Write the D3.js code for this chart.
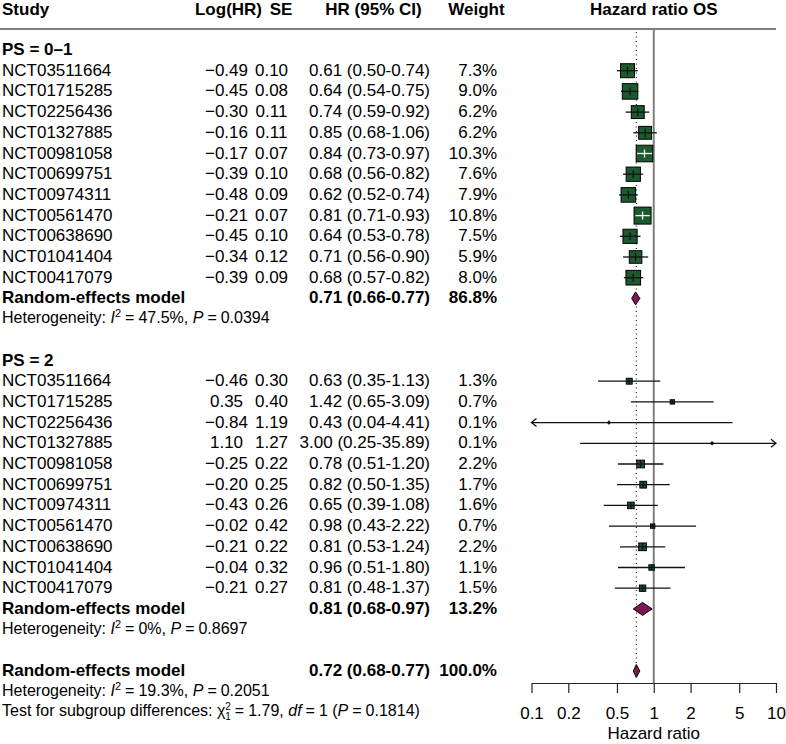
<!DOCTYPE html>
<html>
<head>
<meta charset="utf-8">
<script src="https://cdn.jsdelivr.net/npm/d3@7"></script>
<style>
	body { margin: 0; background: #fff; }
	svg { font-family: "Liberation Sans", Arial, sans-serif; }
</style>
</head>
<body>
<svg id="chart" width="786" height="744"></svg>
<script>
/* eslint-disable no-var, no-undef */

var studies = [ 'NCT03511664', 'NCT01715285', 'NCT02256436', 'NCT01327885', 'NCT00981058', 'NCT00699751',
	'NCT00974311', 'NCT00561470', 'NCT00638690', 'NCT01041404', 'NCT00417079' ];

// PS = 0-1
var logHR1 = [ -0.49, -0.45, -0.30, -0.16, -0.17, -0.39, -0.48, -0.21, -0.45, -0.34, -0.39 ];
var se1 = [ 0.10, 0.08, 0.11, 0.11, 0.07, 0.10, 0.09, 0.07, 0.10, 0.12, 0.09 ];
var hr1 = [ 0.61, 0.64, 0.74, 0.85, 0.84, 0.68, 0.62, 0.81, 0.64, 0.71, 0.68 ];
var lower1 = [ 0.50, 0.54, 0.59, 0.68, 0.73, 0.56, 0.52, 0.71, 0.53, 0.56, 0.57 ];
var upper1 = [ 0.74, 0.75, 0.92, 1.06, 0.97, 0.82, 0.74, 0.93, 0.78, 0.90, 0.82 ];
var weight1 = [ 7.3, 9.0, 6.2, 6.2, 10.3, 7.6, 7.9, 10.8, 7.5, 5.9, 8.0 ];

// PS = 2
var logHR2 = [ -0.46, 0.35, -0.84, 1.10, -0.25, -0.20, -0.43, -0.02, -0.21, -0.04, -0.21 ];
var se2 = [ 0.30, 0.40, 1.19, 1.27, 0.22, 0.25, 0.26, 0.42, 0.22, 0.32, 0.27 ];
var hr2 = [ 0.63, 1.42, 0.43, 3.00, 0.78, 0.82, 0.65, 0.98, 0.81, 0.96, 0.81 ];
var lower2 = [ 0.35, 0.65, 0.04, 0.25, 0.51, 0.50, 0.39, 0.43, 0.53, 0.51, 0.48 ];
var upper2 = [ 1.13, 3.09, 4.41, 35.89, 1.20, 1.35, 1.08, 2.22, 1.24, 1.80, 1.37 ];
var weight2 = [ 1.3, 0.7, 0.1, 0.1, 2.2, 1.7, 1.6, 0.7, 2.2, 1.1, 1.5 ];

// pooled estimates: [ hr, lower, upper, weight ]
var pooled1 = [ 0.71, 0.66, 0.77, 86.8 ];
var pooled2 = [ 0.81, 0.68, 0.97, 13.2 ];
var pooledAll = [ 0.72, 0.68, 0.77, 100.0 ];
// heterogeneity: [ I2 label, P label ]
var het1 = [ '47.5%', '0.0394' ];
var het2 = [ '0%', '0.8697' ];
var hetAll = [ '19.3%', '0.2051' ];
var subgroupTest = [ '1.79', '1', '0.1814' ];

var groupLabels = [ 'PS = 0\u20131', 'PS = 2' ];
var axisTicks = [ 0.1, 0.2, 0.5, 1, 2, 5, 10 ];

var svg = d3.select( '#chart' );
var fs = 17;
var fsSmall = 16;

var f2 = d3.format( '.2f' );
var f1 = d3.format( '.1f' );

function ciLabel( hr, lo, hi ) {
	return f2( hr ) + ' (' + f2( lo ) + '-' + f2( hi ) + ')';
}

// build rows: k is the row slot
var rows = [];
function addGroup( startK, label, logHR, se, hr, lo, hi, w, pooled, het ) {
	rows.push( { k: startK, type: 'group', label: label } );
	studies.forEach( function( s, i ) {
		rows.push( { k: startK + 1 + i, type: 'study', label: s, logHR: logHR[ i ], se: se[ i ],
			hr: hr[ i ], lo: lo[ i ], hi: hi[ i ], w: w[ i ] } );
	} );
	rows.push( { k: startK + 12, type: 'pooled', label: 'Random-effects model', hr: pooled[ 0 ],
		lo: pooled[ 1 ], hi: pooled[ 2 ], w: pooled[ 3 ] } );
	rows.push( { k: startK + 13, type: 'het', het: het } );
}
addGroup( 0, groupLabels[ 0 ], logHR1, se1, hr1, lower1, upper1, weight1, pooled1, het1 );
addGroup( 15, groupLabels[ 1 ], logHR2, se2, hr2, lower2, upper2, weight2, pooled2, het2 );
rows.push( { k: 30, type: 'pooled', label: 'Random-effects model', hr: pooledAll[ 0 ],
	lo: pooledAll[ 1 ], hi: pooledAll[ 2 ], w: pooledAll[ 3 ] } );
rows.push( { k: 31, type: 'het', het: hetAll } );
rows.push( { k: 32, type: 'test' } );

// scales
var y = d3.scaleLinear().domain( [ 1, 32 ] ).range( [ 70.7, 70.7 + 31 * 20.7 ] );
var x = d3.scaleLog().domain( [ 0.1, 10 ] ).range( [ 531.5, 776 ] );
var size = d3.scaleSqrt().domain( [ 0, 10.8 ] ).range( [ 0, 17 ] );

var axisY = 683;
var lineTop = 29;

// column headers
var head = svg.append( 'g' )
	.attr( 'font-size', fs )
	.attr( 'font-weight', 'bold' );
head.append( 'text' ).attr( 'x', 2 ).attr( 'y', 15 ).text( 'Study' );
head.append( 'text' ).attr( 'x', 228.5 ).attr( 'y', 15 ).attr( 'text-anchor', 'middle' ).text( 'Log(HR)' );
head.append( 'text' ).attr( 'x', 281 ).attr( 'y', 15 ).attr( 'text-anchor', 'middle' ).text( 'SE' );
head.append( 'text' ).attr( 'x', 373.5 ).attr( 'y', 15 ).attr( 'text-anchor', 'middle' ).text( 'HR (95% CI)' );
head.append( 'text' ).attr( 'x', 476.5 ).attr( 'y', 15 ).attr( 'text-anchor', 'middle' ).text( 'Weight' );
head.append( 'text' ).attr( 'x', x( 1 ) ).attr( 'y', 15 ).attr( 'text-anchor', 'middle' ).text( 'Hazard ratio OS' );

svg.append( 'line' )
	.attr( 'x1', 0 ).attr( 'x2', 776 )
	.attr( 'y1', lineTop ).attr( 'y2', lineTop )
	.attr( 'stroke', '#000' )
	.attr( 'stroke-width', 1.2 );

// reference lines
svg.append( 'line' )
	.attr( 'x1', x( 1 ) ).attr( 'x2', x( 1 ) )
	.attr( 'y1', lineTop ).attr( 'y2', axisY )
	.attr( 'stroke', '#7f7f7f' )
	.attr( 'stroke-width', 2 );

svg.append( 'line' )
	.attr( 'x1', x( pooledAll[ 0 ] ) ).attr( 'x2', x( pooledAll[ 0 ] ) )
	.attr( 'y1', lineTop + 3 ).attr( 'y2', y( 30 ) - 6 )
	.attr( 'stroke', '#000' )
	.attr( 'stroke-width', 1 )
	.attr( 'stroke-dasharray', '1,3.5' );

// table text
var tbl = svg.append( 'g' ).attr( 'font-size', fs );
var dy = 5;

// "=" with a little space either side
function eq( t ) {
	t.append( 'tspan' ).attr( 'dx', 4 ).text( '=' );
	return t.append( 'tspan' ).attr( 'dx', 4 );
}

rows.forEach( function( r ) {
	var ty = y( r.k ) + dy;
	if ( r.type === 'group' ) {
		tbl.append( 'text' ).attr( 'x', 2 ).attr( 'y', ty ).attr( 'font-weight', 'bold' ).text( r.label );
	} else if ( r.type === 'study' || r.type === 'pooled' ) {
		var g = tbl.append( 'g' ).attr( 'font-weight', r.type === 'pooled' ? 'bold' : 'normal' );
		g.append( 'text' ).attr( 'x', 2 ).attr( 'y', ty ).text( r.label );
		if ( r.type === 'study' ) {
			g.append( 'text' ).attr( 'x', 226.5 ).attr( 'y', ty ).attr( 'text-anchor', 'middle' ).text( f2( r.logHR ) );
			g.append( 'text' ).attr( 'x', 271.5 ).attr( 'y', ty ).attr( 'text-anchor', 'middle' ).text( f2( r.se ) );
		}
		g.append( 'text' ).attr( 'x', 430 ).attr( 'y', ty ).attr( 'text-anchor', 'end' ).text( ciLabel( r.hr, r.lo, r.hi ) );
		g.append( 'text' ).attr( 'x', 497 ).attr( 'y', ty ).attr( 'text-anchor', 'end' ).text( f1( r.w ) + '%' );
	} else if ( r.type === 'het' ) {
		var t = tbl.append( 'text' ).attr( 'x', 2 ).attr( 'y', ty - 1 ).attr( 'font-size', fsSmall );
		t.append( 'tspan' ).text( 'Heterogeneity: ' );
		t.append( 'tspan' ).attr( 'font-style', 'italic' ).text( 'I' );
		t.append( 'tspan' ).attr( 'font-size', 11 ).attr( 'dy', -6 ).text( '2' );
		t.append( 'tspan' ).attr( 'dy', 6 ).attr( 'dx', 4 ).text( '=' );
		t.append( 'tspan' ).attr( 'dx', 4 ).text( r.het[ 0 ] + ', ' );
		t.append( 'tspan' ).attr( 'font-style', 'italic' ).text( 'P' );
		eq( t ).text( r.het[ 1 ] );
	} else if ( r.type === 'test' ) {
		var tt = tbl.append( 'text' ).attr( 'x', 2 ).attr( 'y', ty - 1 ).attr( 'font-size', fsSmall );
		tt.append( 'tspan' ).text( 'Test for subgroup differences: \u03c7' );
		tt.append( 'tspan' ).attr( 'font-size', 10 ).attr( 'dy', -6 ).text( '2' );
		tt.append( 'tspan' ).attr( 'font-size', 10 ).attr( 'dx', -5.6 ).attr( 'dy', 10 ).text( '1' );
		tt.append( 'tspan' ).attr( 'dy', -4 ).attr( 'dx', 4 ).text( '=' );
		tt.append( 'tspan' ).attr( 'dx', 4 ).text( subgroupTest[ 0 ] + ', ' );
		tt.append( 'tspan' ).attr( 'font-style', 'italic' ).text( 'df' );
		eq( tt ).text( subgroupTest[ 1 ] + ' (' );
		tt.append( 'tspan' ).attr( 'font-style', 'italic' ).text( 'P' );
		eq( tt ).text( subgroupTest[ 2 ] + ')' );
	}
} );

// study markers
var plot = svg.append( 'g' );
var xMin = x.domain()[ 0 ];
var xMax = x.domain()[ 1 ];

rows.filter( function( r ) {
	return r.type === 'study';
} ).forEach( function( r ) {
	var cy = y( r.k );
	var cx = x( r.hr );
	var s = size( r.w );
	var x0 = x( Math.max( r.lo, xMin ) );
	var x1 = x( Math.min( r.hi, xMax ) );

	plot.append( 'line' )
		.attr( 'x1', x0 ).attr( 'x2', x1 )
		.attr( 'y1', cy ).attr( 'y2', cy )
		.attr( 'stroke', '#111' )
		.attr( 'stroke-width', 1.3 );

	if ( r.lo < xMin ) {
		plot.append( 'path' )
			.attr( 'd', 'M' + ( x0 + 5 ) + ',' + ( cy - 4 ) + 'L' + x0 + ',' + cy + 'L' + ( x0 + 5 ) + ',' + ( cy + 4 ) )
			.attr( 'fill', 'none' ).attr( 'stroke', '#111' ).attr( 'stroke-width', 1.3 );
	}
	if ( r.hi > xMax ) {
		plot.append( 'path' )
			.attr( 'd', 'M' + ( x1 - 5 ) + ',' + ( cy - 4 ) + 'L' + x1 + ',' + cy + 'L' + ( x1 - 5 ) + ',' + ( cy + 4 ) )
			.attr( 'fill', 'none' ).attr( 'stroke', '#111' ).attr( 'stroke-width', 1.3 );
	}

	plot.append( 'rect' )
		.attr( 'x', cx - s / 2 ).attr( 'y', cy - s / 2 )
		.attr( 'width', s ).attr( 'height', s )
		.attr( 'fill', '#1b5a2e' )
		.attr( 'stroke', '#000' )
		.attr( 'stroke-width', 1 );

	// line drawn over the square, white when the interval sits inside it
	var inside = x0 >= cx - s / 2 - 1 && x1 <= cx + s / 2 + 1;
	var col = inside ? '#fff' : '#111';
	var seg = inside ? [ x0, x1 ] : [ cx - s / 2, cx + s / 2 ];
	plot.append( 'line' )
		.attr( 'x1', seg[ 0 ] ).attr( 'x2', seg[ 1 ] )
		.attr( 'y1', cy ).attr( 'y2', cy )
		.attr( 'stroke', col )
		.attr( 'stroke-width', 1.3 );
	var th = Math.max( Math.min( s / 2, 4 ), 2 );
	plot.append( 'line' )
		.attr( 'x1', cx ).attr( 'x2', cx )
		.attr( 'y1', cy - th ).attr( 'y2', cy + th )
		.attr( 'stroke', col )
		.attr( 'stroke-width', 1.3 );
} );

// pooled diamonds
rows.filter( function( r ) {
	return r.type === 'pooled';
} ).forEach( function( r ) {
	var cy = y( r.k );
	var h = 6.5;
	plot.append( 'path' )
		.attr( 'd', 'M' + x( r.lo ) + ',' + cy + 'L' + x( r.hr ) + ',' + ( cy - h ) +
			'L' + x( r.hi ) + ',' + cy + 'L' + x( r.hr ) + ',' + ( cy + h ) + 'Z' )
		.attr( 'fill', '#7e1752' )
		.attr( 'stroke', '#000' )
		.attr( 'stroke-width', 1 );
} );

// x axis
var axis = svg.append( 'g' )
	.attr( 'transform', 'translate(0,' + axisY + ')' )
	.call( d3.axisBottom( x )
		.tickValues( axisTicks )
		.tickFormat( d3.format( '' ) )
		.tickSize( 10 )
		.tickSizeOuter( 0 )
		.tickPadding( 14 ) );
axis.select( '.domain' ).attr( 'stroke', '#222' ).attr( 'stroke-width', 1.2 );
axis.selectAll( '.tick line' ).attr( 'stroke', '#222' ).attr( 'stroke-width', 1.2 );
axis.selectAll( '.tick text' )
	.attr( 'font-size', fs )
	.attr( 'font-family', '"Liberation Sans", Arial, sans-serif' )
	.attr( 'fill', '#000' );

svg.append( 'text' )
	.attr( 'x', x( 1 ) )
	.attr( 'y', 739 )
	.attr( 'text-anchor', 'middle' )
	.attr( 'font-size', fs )
	.text( 'Hazard ratio' );
</script>
</body>
</html>
